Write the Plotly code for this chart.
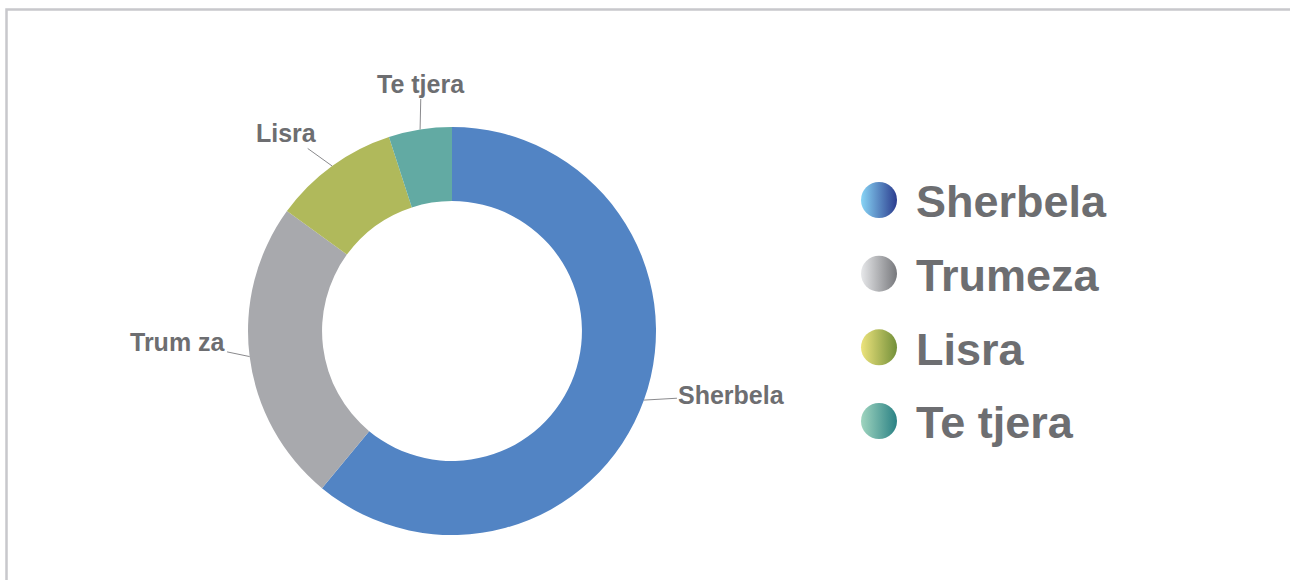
import math
import plotly.graph_objects as go

# ---- data ----
categories = ["Sherbela", "Trumeza", "Lisra", "Te tjera"]
slice_labels = ["Sherbela", "Trum za", "Lisra", "Te tjera"]
values = [61, 24, 10, 5]

# ---- style ----
W, H = 1290, 580
dark_colors = ["#2b3c8e", "#77787c", "#73903a", "#2a8184"]
light_colors = ["#88d5f6", "#e7e8ea", "#ede37c", "#a0d5bf"]
mid_colors = ["#5284c4", "#a8a9ad", "#b0b95b", "#62aaa3"]
text_color = "#6d6e71"
font_family = "Liberation Sans, Arial, sans-serif"

# pie geometry (pixels)
cx, cy, R = 452, 331, 204
hole = 0.637
# label offsets (pixels, relative to leader tip)
label_offsets = [(88, -5), (-72, -15), (-46, -33), (1, -46)]

fig = go.Figure()

fig.add_trace(go.Pie(
    labels=categories,
    values=values,
    sort=False,
    direction="clockwise",
    rotation=0,
    hole=hole,
    marker=dict(colors=mid_colors, line=dict(width=0)),
    textinfo="none",
    hoverinfo="skip",
    showlegend=False,
    domain=dict(x=[(cx - R) / W, (cx + R) / W], y=[1 - (cy + R) / H, 1 - (cy - R) / H]),
))

# outside labels with leader lines, positioned from slice mid-angles
total = sum(values)
cum = 0
annotations = []
for lab, v, (ax, ay) in zip(slice_labels, values, label_offsets):
    mid = (cum + v / 2) / total * 2 * math.pi
    cum += v
    px = cx + R * math.sin(mid)
    py = cy - R * math.cos(mid)
    annotations.append(dict(
        x=px / W, y=1 - py / H, xref="paper", yref="paper",
        text=lab, showarrow=True, arrowhead=0, arrowwidth=1,
        arrowcolor="#8a8a8d", standoff=0, ax=ax, ay=ay,
        font=dict(family=font_family, size=25, color=text_color, weight="bold"),
    ))

# custom legend: gradient circles + labels
fig.add_trace(go.Scatter(
    x=[0] * len(categories), y=categories, mode="markers",
    marker=dict(size=36, color=light_colors, symbol="circle",
                line=dict(width=0),
                gradient=dict(type="horizontal", color=dark_colors)),
    xaxis="x", yaxis="y", hoverinfo="skip", showlegend=False,
))
fig.add_trace(go.Scatter(
    x=[1] * len(categories), y=categories, mode="text",
    text=categories, textposition="middle right",
    textfont=dict(family=font_family, size=45, color=text_color, weight="bold"),
    xaxis="x", yaxis="y2", hoverinfo="skip", showlegend=False,
))

# axis geometry for legend: x=0 -> px 879, x=1 -> px 916
x_dom = [0.6, 1.0]
x0px, x1px = 879, 916
ppu = x1px - x0px
dom_left = x_dom[0] * W
dom_w = (x_dom[1] - x_dom[0]) * W
r0 = -(x0px - dom_left) / ppu
r1 = r0 + dom_w / ppu

row_top, row_bot = 200, 421
step = (row_bot - row_top) / 3
text_shift = 6
ydom = [1 - (row_bot + step / 2) / H, 1 - (row_top - step / 2) / H]
ydom2 = [ydom[0] - text_shift / H, ydom[1] - text_shift / H]
yax = dict(range=[3.5, -0.5], visible=False, type="category", fixedrange=True,
           categoryorder="array", categoryarray=categories)
fig.update_layout(
    width=W, height=H,
    margin=dict(l=0, r=0, t=0, b=0),
    paper_bgcolor="white", plot_bgcolor="rgba(0,0,0,0)",
    xaxis=dict(domain=x_dom, range=[r0, r1], visible=False, fixedrange=True),
    yaxis=dict(domain=ydom, **yax),
    yaxis2=dict(domain=ydom2, anchor="x", **yax),
    annotations=annotations,
    shapes=[dict(type="rect", xref="paper", yref="paper",
                 x0=6.5 / W, x1=1.05, y0=-0.05, y1=1 - 9.5 / H,
                 line=dict(color="#c8c8cc", width=2.5), fillcolor="rgba(0,0,0,0)")],
    showlegend=False,
)

fig.write_html("out.html")
